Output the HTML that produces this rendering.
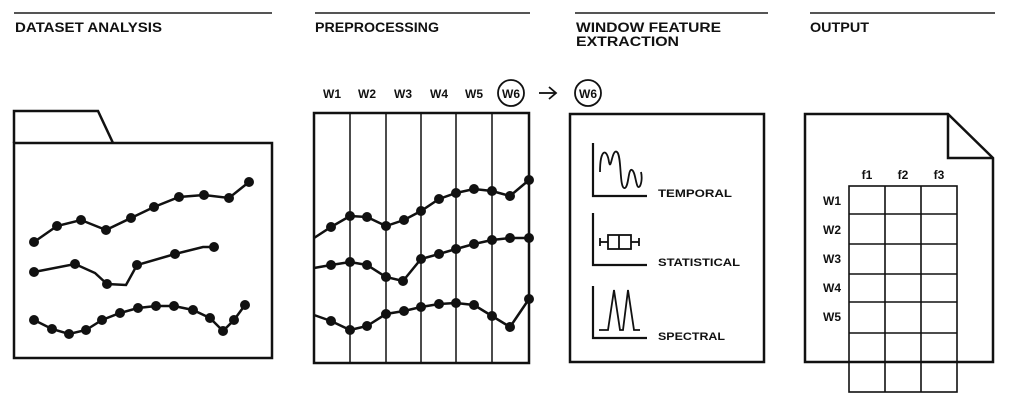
<!DOCTYPE html>
<html><head><meta charset="utf-8"><style>
html,body{margin:0;padding:0;background:#fff;}
svg{display:block;}
text{font-family:"Liberation Sans",sans-serif;font-weight:bold;fill:#111;}
</style></head><body>
<svg width="1011" height="412" viewBox="0 0 1011 412" xmlns="http://www.w3.org/2000/svg">
<g stroke="#555" stroke-width="2">
<line x1="14" y1="13" x2="272" y2="13"/>
<line x1="315" y1="13" x2="530" y2="13"/>
<line x1="575" y1="13" x2="768" y2="13"/>
<line x1="810" y1="13" x2="995" y2="13"/>
</g>
<g font-size="13.5">
<text x="15" y="32" textLength="147" lengthAdjust="spacingAndGlyphs">DATASET ANALYSIS</text>
<text x="315" y="32" textLength="124" lengthAdjust="spacingAndGlyphs">PREPROCESSING</text>
<text x="576" y="32" textLength="145" lengthAdjust="spacingAndGlyphs">WINDOW FEATURE</text>
<text x="576" y="46" textLength="103" lengthAdjust="spacingAndGlyphs">EXTRACTION</text>
<text x="810" y="32" textLength="59" lengthAdjust="spacingAndGlyphs">OUTPUT</text>
</g>

<!-- folder -->
<g fill="none" stroke="#111" stroke-width="2.5">
<polyline points="14,143 14,111 98,111 113,143"/>
<rect x="14" y="143" width="258" height="215"/>
</g>
<g stroke="#111" stroke-width="2.5" fill="none">
<polyline points="34,242 57,226 81,220 106,230 131,218 154,207 179,197 204,195 229,198 249,182"/>
<polyline points="34,272 75,264 95,273 107,284 126,285 137,265 175,254 203,247 214,247"/>
<polyline points="34,320 52,329 69,334 86,330 102,320 120,313 138,308 156,306 174,306 193,310 210,318 223,331 234,320 245,305"/>
</g>
<g fill="#111">
<circle cx="34" cy="242" r="5"/><circle cx="57" cy="226" r="5"/><circle cx="81" cy="220" r="5"/><circle cx="106" cy="230" r="5"/><circle cx="131" cy="218" r="5"/><circle cx="154" cy="207" r="5"/><circle cx="179" cy="197" r="5"/><circle cx="204" cy="195" r="5"/><circle cx="229" cy="198" r="5"/><circle cx="249" cy="182" r="5"/>
<circle cx="34" cy="272" r="5"/><circle cx="75" cy="264" r="5"/><circle cx="107" cy="284" r="5"/><circle cx="137" cy="265" r="5"/><circle cx="175" cy="254" r="5"/><circle cx="214" cy="247" r="5"/>
<circle cx="34" cy="320" r="5"/><circle cx="52" cy="329" r="5"/><circle cx="69" cy="334" r="5"/><circle cx="86" cy="330" r="5"/><circle cx="102" cy="320" r="5"/><circle cx="120" cy="313" r="5"/><circle cx="138" cy="308" r="5"/><circle cx="156" cy="306" r="5"/><circle cx="174" cy="306" r="5"/><circle cx="193" cy="310" r="5"/><circle cx="210" cy="318" r="5"/><circle cx="223" cy="331" r="5"/><circle cx="234" cy="320" r="5"/><circle cx="245" cy="305" r="5"/>
</g>

<!-- preprocessing -->
<g font-size="12">
<text x="332" y="98" text-anchor="middle">W1</text>
<text x="367" y="98" text-anchor="middle">W2</text>
<text x="403" y="98" text-anchor="middle">W3</text>
<text x="439" y="98" text-anchor="middle">W4</text>
<text x="474" y="98" text-anchor="middle">W5</text>
<text x="511" y="98" text-anchor="middle">W6</text>
<text x="588" y="98" text-anchor="middle">W6</text>
</g>
<g fill="none" stroke="#111" stroke-width="1.8">
<circle cx="511" cy="93" r="13"/>
<circle cx="588" cy="93" r="13"/>
<line x1="539" y1="93" x2="555" y2="93"/>
<polyline points="549,87 556,93 549,99"/>
</g>
<g stroke="#111" stroke-width="1.5">
<line x1="350" y1="113" x2="350" y2="363"/><line x1="386" y1="113" x2="386" y2="363"/><line x1="421" y1="113" x2="421" y2="363"/><line x1="456" y1="113" x2="456" y2="363"/><line x1="492" y1="113" x2="492" y2="363"/>
</g>
<rect x="314" y="113" width="215" height="250" fill="none" stroke="#111" stroke-width="2.5"/>
<g stroke="#111" stroke-width="2.5" fill="none">
<polyline points="314,238 331,227 350,216 367,217 386,226 404,220 421,211 439,199 456,193 474,189 492,191 510,196 529,180"/>
<polyline points="314,268 331,265 350,262 367,265 386,277 403,281 421,259 439,254 456,249 474,244 492,240 510,238 529,238"/>
<polyline points="314,315 331,321 350,330 367,326 386,314 404,311 421,307 439,304 456,303 474,305 492,316 510,327 529,299"/>
</g>
<g fill="#111">
<circle cx="331" cy="227" r="5"/><circle cx="350" cy="216" r="5"/><circle cx="367" cy="217" r="5"/><circle cx="386" cy="226" r="5"/><circle cx="404" cy="220" r="5"/><circle cx="421" cy="211" r="5"/><circle cx="439" cy="199" r="5"/><circle cx="456" cy="193" r="5"/><circle cx="474" cy="189" r="5"/><circle cx="492" cy="191" r="5"/><circle cx="510" cy="196" r="5"/><circle cx="529" cy="180" r="5"/>
<circle cx="331" cy="265" r="5"/><circle cx="350" cy="262" r="5"/><circle cx="367" cy="265" r="5"/><circle cx="386" cy="277" r="5"/><circle cx="403" cy="281" r="5"/><circle cx="421" cy="259" r="5"/><circle cx="439" cy="254" r="5"/><circle cx="456" cy="249" r="5"/><circle cx="474" cy="244" r="5"/><circle cx="492" cy="240" r="5"/><circle cx="510" cy="238" r="5"/><circle cx="529" cy="238" r="5"/>
<circle cx="331" cy="321" r="5"/><circle cx="350" cy="330" r="5"/><circle cx="367" cy="326" r="5"/><circle cx="386" cy="314" r="5"/><circle cx="404" cy="311" r="5"/><circle cx="421" cy="307" r="5"/><circle cx="439" cy="304" r="5"/><circle cx="456" cy="303" r="5"/><circle cx="474" cy="305" r="5"/><circle cx="492" cy="316" r="5"/><circle cx="510" cy="327" r="5"/><circle cx="529" cy="299" r="5"/>
</g>

<!-- feature extraction -->
<rect x="570" y="114" width="194" height="248" fill="none" stroke="#111" stroke-width="2.5"/>
<g fill="none" stroke="#111" stroke-width="2.2">
<polyline points="593,143 593,196 647,196"/>
<polyline points="593,213 593,265 647,265"/>
<polyline points="593,286 593,338 647,338"/>
</g>
<g fill="none" stroke="#111" stroke-width="1.8">
<path d="M600,172 C600,148 607,148 609,162 C611,172 612,148 617,152 C622,156 619,190 625,188 C629,186 628,168 632,170 C636,172 636,192 640,186 C642,182 642,176 641,172"/>
<rect x="608" y="235" width="23" height="14"/>
<line x1="619" y1="235" x2="619" y2="249"/>
<line x1="600" y1="242" x2="608" y2="242"/><line x1="631" y1="242" x2="639" y2="242"/>
<line x1="600" y1="238" x2="600" y2="246"/><line x1="639" y1="238" x2="639" y2="246"/>
<path d="M599,330 L608,330 L614,290 L620,330 L623,330 L628,290 L634,330 L640,330"/>
</g>
<g font-size="11">
<text x="658" y="197" textLength="74" lengthAdjust="spacingAndGlyphs">TEMPORAL</text>
<text x="658" y="266" textLength="82" lengthAdjust="spacingAndGlyphs">STATISTICAL</text>
<text x="658" y="340" textLength="67" lengthAdjust="spacingAndGlyphs">SPECTRAL</text>
</g>

<!-- output -->
<g fill="none" stroke="#111" stroke-width="2.5">
<polygon points="805,114 948,114 993,158 993,362 805,362" fill="#fff"/>
<polyline points="948,114 948,158 993,158"/>
</g>
<g stroke="#111" stroke-width="1.6" fill="none">
<rect x="849" y="186" width="108" height="206"/>
<line x1="885" y1="186" x2="885" y2="392"/><line x1="921" y1="186" x2="921" y2="392"/>
<line x1="849" y1="214" x2="957" y2="214"/><line x1="849" y1="244" x2="957" y2="244"/><line x1="849" y1="274" x2="957" y2="274"/><line x1="849" y1="302" x2="957" y2="302"/><line x1="849" y1="333" x2="957" y2="333"/><line x1="849" y1="362" x2="957" y2="362"/>
</g>
<g font-size="12">
<text x="867" y="179" text-anchor="middle">f1</text>
<text x="903" y="179" text-anchor="middle">f2</text>
<text x="939" y="179" text-anchor="middle">f3</text>
<text x="832" y="205" text-anchor="middle">W1</text>
<text x="832" y="234" text-anchor="middle">W2</text>
<text x="832" y="263" text-anchor="middle">W3</text>
<text x="832" y="292" text-anchor="middle">W4</text>
<text x="832" y="321" text-anchor="middle">W5</text>
</g>
</svg>
</body></html>
